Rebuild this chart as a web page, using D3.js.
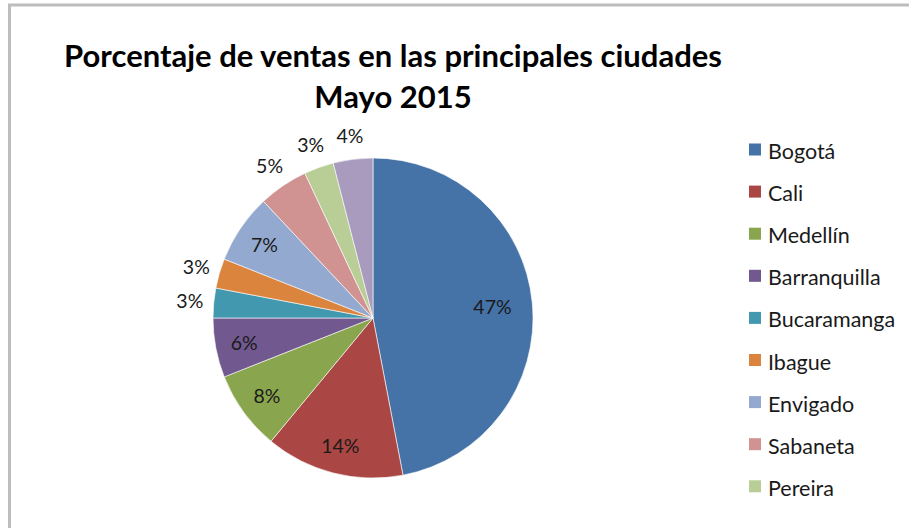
<!DOCTYPE html>
<html lang="es">
<head>
<meta charset="UTF-8">
<title>Porcentaje de ventas</title>
<script src="https://d3js.org/d3.v7.min.js"></script>
<style>
  body { margin: 0; background: #fff; }
  svg { display: block; font-family: Lato, "Open Sans", sans-serif; }
</style>
</head>
<body>
<script>
// datos
const ciudades = ['Bogotá', 'Cali', 'Medellín', 'Barranquilla', 'Bucaramanga', 'Ibague', 'Envigado', 'Sabaneta', 'Pereira', 'Otras'];
const porcentajes = [47, 14, 8, 6, 3, 3, 7, 5, 3, 4];
const colores = ['#4572A7', '#AA4643', '#89A54E', '#71588F', '#4198AF', '#DB843D', '#93A9CF', '#D19392', '#B9CD96', '#A99BBD'];
const titulo = ['Porcentaje de ventas en las principales ciudades', 'Mayo 2015'];

const w = 909, h = 528;
const cx = 373, cy = 318, r = 160;

const svg = d3.select('body')
              .append('svg')
              .attr('width', w)
              .attr('height', h);

// marco
svg.append('path')
   .attr('d', `M9.5,${h} V5 H${w}`)
   .attr('fill', 'none')
   .attr('stroke', '#bdbdbd')
   .attr('stroke-width', 3);

// titulo
svg.append('g')
   .selectAll('text')
   .data(titulo)
   .enter()
   .append('text')
   .attr('x', 393)
   .attr('y', (d, i) => 67 + i * 41)
   .attr('text-anchor', 'middle')
   .attr('font-size', 31)
   .attr('font-weight', 'bold')
   .attr('fill', '#000')
   .text(d => d);

const datos = ciudades.map((c, i) => ({ ciudad: c, valor: porcentajes[i], color: colores[i] }));

const pie = d3.pie()
              .sort(null)
              .value(d => d.valor);

const arcos = pie(datos);

const arc = d3.arc()
              .innerRadius(0)
              .outerRadius(r);

const g = svg.append('g')
             .attr('transform', `translate(${cx},${cy})`);

g.selectAll('path')
 .data(arcos)
 .enter()
 .append('path')
 .attr('d', arc)
 .attr('fill', d => d.data.color)
 .attr('stroke', '#fff')
 .attr('stroke-width', 0.6);

// etiquetas: pequeñas fuera, grandes dentro
function radioEtiqueta(d) {
    if (d.data.valor <= 5) return r + 24;
    if (d.data.valor > 30) return r * 0.75;
    return r * 0.82;
}

g.selectAll('text')
 .data(arcos)
 .enter()
 .append('text')
 .attr('x', d => {
     const a = (d.startAngle + d.endAngle) / 2;
     return Math.sin(a) * radioEtiqueta(d);
 })
 .attr('y', d => {
     const a = (d.startAngle + d.endAngle) / 2;
     return -Math.cos(a) * radioEtiqueta(d);
 })
 .attr('text-anchor', 'middle')
 .attr('dominant-baseline', 'central')
 .attr('font-size', 19.5)
 .attr('fill', '#1a1a1a')
 .text(d => d.data.valor + '%');

// leyenda (el recuadro solo deja ver 9 entradas)
const leyenda = svg.append('g')
                   .attr('transform', 'translate(749,150)');

const item = leyenda.selectAll('g')
                    .data(datos.slice(0, 9))
                    .enter()
                    .append('g')
                    .attr('transform', (d, i) => `translate(0,${i * 42.1})`);

item.append('rect')
    .attr('x', 0)
    .attr('y', -6.5)
    .attr('width', 12)
    .attr('height', 12)
    .attr('fill', d => d.color);

item.append('text')
    .attr('x', 19)
    .attr('y', 1)
    .attr('dominant-baseline', 'central')
    .attr('font-size', 21.5)
    .attr('fill', '#1a1a1a')
    .text(d => d.ciudad);
</script>
</body>
</html>
